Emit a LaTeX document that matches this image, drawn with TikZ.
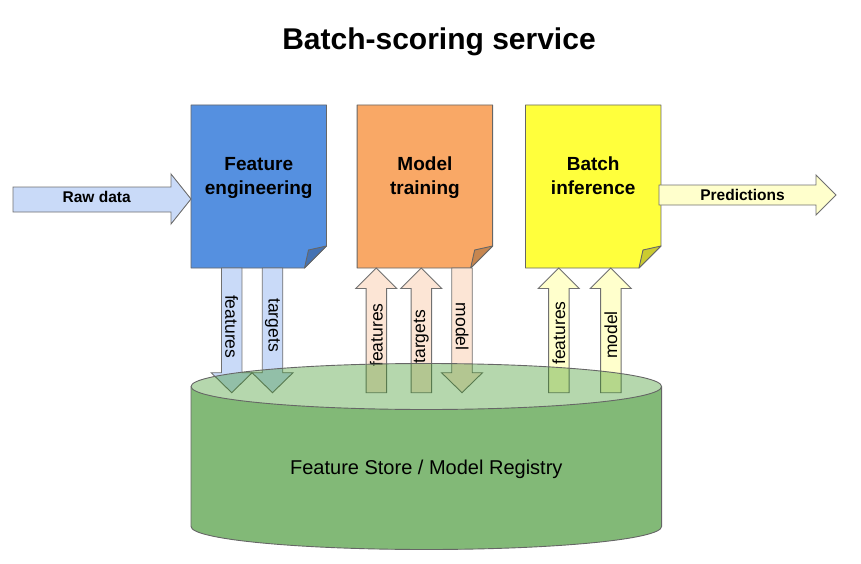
\documentclass[tikz,border=0pt]{standalone}
\usepackage{fontspec}
\setmainfont{Liberation Sans}
\usetikzlibrary{calc}
\definecolor{feblue}{HTML}{5590E0}
\definecolor{febluedark}{HTML}{4472B3}
\definecolor{mtorange}{HTML}{F9A866}
\definecolor{mtorangedark}{HTML}{C7864F}
\definecolor{biyellow}{HTML}{FFFF3C}
\definecolor{biyellowdark}{HTML}{CBCB30}
\definecolor{arrblue}{HTML}{C9DAF8}
\definecolor{arrpeach}{HTML}{FCE5D5}
\definecolor{arryellow}{HTML}{FFFFCC}
\definecolor{cylbody}{HTML}{82B977}
\definecolor{cyltop}{RGB}{44,141,20}
\definecolor{edgegray}{HTML}{666666}
\definecolor{arrgray}{HTML}{707070}
\newcommand\FatDown[4]{%
  \draw[arrline, fill=#4] ({#1-10.25},#2) -- ({#1+10.25},#2) -- ({#1+10.25},{#3-20}) -- ({#1+20.5},{#3-20}) -- (#1,#3) -- ({#1-20.5},{#3-20}) -- ({#1-10.25},{#3-20}) -- cycle;}
\newcommand\FatUp[4]{%
  \draw[arrline, fill=#4] (#1,#2) -- ({#1+20.5},{#2+20.5}) -- ({#1+10.25},{#2+20.5}) -- ({#1+10.25},#3) -- ({#1-10.25},#3) -- ({#1-10.25},{#2+20.5}) -- ({#1-20.5},{#2+20.5}) -- cycle;}
\tikzset{
  boxarea/.style={minimum width=135.5pt, minimum height=163pt, inner sep=0pt, outer sep=0pt, draw=none},
  boxline/.style={draw=edgegray, line width=0.9pt, line join=round},
  boxlabel/.style={align=center, inner sep=0pt, font=\fontsize{19}{24}\selectfont\bfseries},
  arrline/.style={draw=arrgray, line width=0.9pt, line join=miter},
  hlabel/.style={inner sep=0pt, font=\fontsize{15.5}{18}\selectfont\bfseries},
  vlabel/.style={inner sep=0pt, font=\fontsize{17.5}{20}\selectfont},
}
\begin{document}
\begin{tikzpicture}[x=1pt,y=-1pt]
\useasboundingbox (0,0) rectangle (861,564);

% title
\node[anchor=base, inner sep=0pt, font=\fontsize{30}{36}\selectfont\bfseries] (title) at (439,50) {Batch-scoring service};

% boxes
\node[boxarea] (fe) at (258.75,186.5) {};
\node[boxarea] (mt) at (424.9,186.5) {};
\node[boxarea] (bi) at (593.2,186.5) {};
\foreach \b/\c/\d in {fe/feblue/febluedark, mt/mtorange/mtorangedark, bi/biyellow/biyellowdark}{
  \draw[boxline, fill=\c] (\b.north west) -- (\b.north east) -- ([yshift=22pt]\b.south east) -- ([xshift=-22pt]\b.south east) -- (\b.south west) -- cycle;
  \draw[boxline, fill=\d] ([xshift=-22pt]\b.south east) -- ([xshift=-18pt,yshift=18pt]\b.south east) -- ([yshift=22pt]\b.south east) -- cycle;
}
\node[boxlabel] (fe-label) at ([yshift=8.5pt]fe.center) {Feature\\engineering};
\node[boxlabel] (mt-label) at ([yshift=8.5pt]mt.center) {Model\\training};
\node[boxlabel] (bi-label) at ([yshift=10.5pt]bi.center) {Batch\\inference};

% horizontal arrows
\draw[arrline, fill=arrblue] (13,187) -- (171,187) -- (171,174) -- (fe.west |- 0,199) -- (171,224) -- (171,212) -- (13,212) -- cycle;
\node[hlabel] (raw) at (96.7,196.6) {Raw data};
\draw[arrline, fill=arryellow] (659,185) -- (816,185) -- (816,175) -- (836,195) -- (816,215) -- (816,205) -- (659,205) -- cycle;
\node[hlabel] (pred) at (742.5,195) {Predictions};

% cylinder body
\fill[cylbody] (191,386.5) -- (191,526.5) arc[start angle=180, end angle=0, x radius=235.3, y radius=23] -- (661.6,386.5) arc[start angle=0, end angle=180, x radius=235.3, y radius=23] -- cycle;
\draw[boxline] (191,386.5) -- (191,526.5) arc[start angle=180, end angle=0, x radius=235.3, y radius=23] -- (661.6,386.5);

% vertical arrows
\FatDown{231.7}{268}{392.7}{arrblue}
\FatDown{272.5}{268}{392.7}{arrblue}
\FatUp{376.3}{268}{392.7}{arrpeach}
\FatUp{421.3}{268}{392.7}{arrpeach}
\FatDown{462}{268}{392.7}{arrpeach}
\FatUp{558.8}{268}{392.7}{arryellow}
\FatUp{610.8}{268}{392.7}{arryellow}

\node[vlabel, rotate=-90] (fe-features) at (231.7,326.7) {features};
\node[vlabel, rotate=-90] (fe-targets) at (272.5,325) {targets};
\node[vlabel, rotate=90] (mt-features) at (376.3,335) {features};
\node[vlabel, rotate=90] (mt-targets) at (421.3,336.7) {targets};
\node[vlabel, rotate=-90] (mt-model) at (462,326.7) {model};
\node[vlabel, rotate=90] (bi-features) at (558.8,333) {features};
\node[vlabel, rotate=90] (bi-model) at (610.8,335) {model};

% cylinder top (translucent)
\fill[cyltop, fill opacity=0.35] (426.3,386.5) ellipse [x radius=235.3, y radius=23];
\draw[boxline] (426.3,386.5) ellipse [x radius=235.3, y radius=23];

\node[inner sep=0pt, font=\fontsize{20}{24}\selectfont] (store) at (426.3,469) {Feature Store / Model Registry};
\end{tikzpicture}
\end{document}
